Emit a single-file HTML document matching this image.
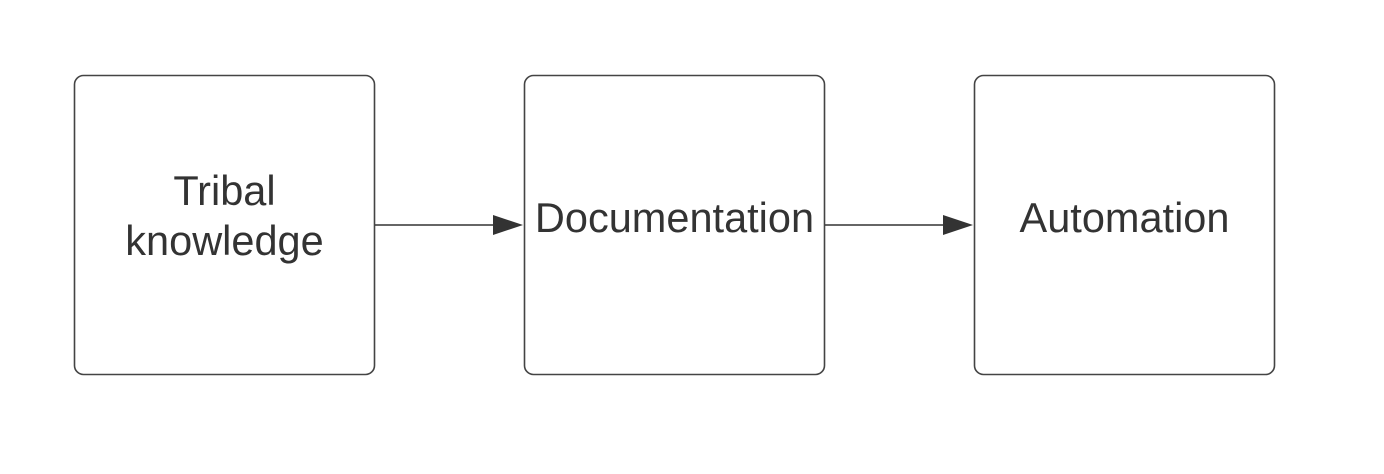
<!DOCTYPE html>
<html><head><style>
html,body{margin:0;padding:0;background:#fff;}
svg text{font-family:"Liberation Sans",sans-serif;font-size:41.5px;fill:#333333;}
</style></head><body>
<svg width="1384" height="469" xmlns="http://www.w3.org/2000/svg">
<g fill="#fff" stroke="#444" stroke-width="1.6">
<rect x="74.5" y="75.5" width="300" height="299" rx="9"/>
<rect x="524.5" y="75.5" width="300" height="299" rx="9"/>
<rect x="974.5" y="75.5" width="300" height="299" rx="9"/>
</g>
<g stroke="#333" stroke-width="1.6">
<line x1="375" y1="225" x2="496" y2="225"/>
<line x1="825" y1="225" x2="946" y2="225"/>
</g>
<g fill="#333">
<polygon points="493,215 523,225 493,235"/>
<polygon points="943,215 973,225 943,235"/>
</g>
<text x="224.5" y="205" text-anchor="middle">Tribal</text>
<text x="224.5" y="255" text-anchor="middle">knowledge</text>
<text x="674.5" y="232" text-anchor="middle">Documentation</text>
<text x="1124.5" y="232" text-anchor="middle">Automation</text>
</svg>
</body></html>
